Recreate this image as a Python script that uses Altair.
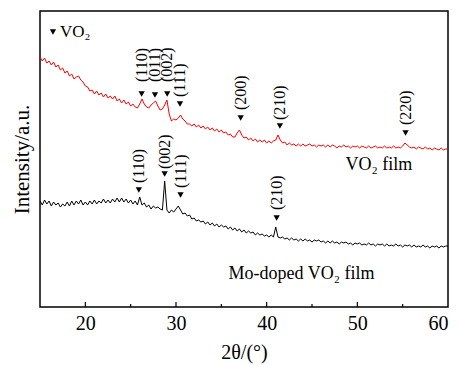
import altair as alt
import pandas as pd

# 2θ sampling grid (degrees), 15 → 60 in 0.25° steps
two_theta = [15 + 0.25 * i for i in range(181)]

# Intensity (a.u.), 4 values per degree
vo2_film = [
    250, 246, 249, 244,  # 15
    246, 242, 245, 240,  # 16
    242, 237, 239, 234,  # 17
    236, 231, 233, 228,  # 18
    230, 231, 227, 225,  # 19
    221, 220, 216, 217,  # 20
    213, 216, 212, 214,  # 21
    210, 213, 209, 211,  # 22
    208, 211, 206, 208,  # 23
    204, 207, 203, 205,  # 24
    201, 203, 200, 199,  # 25
    203, 208, 203, 200,  # 26
    199, 202, 204, 206,  # 27
    201, 197, 198, 202,  # 28
    207, 193, 186, 188,  # 29
    187, 189, 192, 188,  # 30
    186, 183, 183, 181,  # 31
    183, 180, 182, 179,  # 32
    181, 178, 180, 177,  # 33
    179, 176, 178, 175,  # 34
    177, 174, 175, 172,  # 35
    173, 170, 170, 174,  # 36
    177, 172, 169, 170,  # 37
    167, 169, 166, 168,  # 38
    165, 167, 165, 167,  # 39
    164, 166, 164, 166,  # 40
    167, 172, 167, 164,  # 41
    165, 162, 164, 162,  # 42
    163, 161, 163, 161,  # 43
    163, 161, 162, 163,  # 44
    161, 162, 160, 162,  # 45
    161, 162, 160, 162,  # 46
    160, 162, 161, 159,  # 47
    161, 160, 162, 160,  # 48
    161, 159, 161, 160,  # 49
    161, 159, 161, 160,  # 50
    159, 161, 159, 160,  # 51
    161, 159, 160, 159,  # 52
    161, 159, 160, 159,  # 53
    161, 159, 160, 159,  # 54
    161, 164, 162, 160,  # 55
    159, 160, 158, 160,  # 56
    159, 158, 160, 158,  # 57
    159, 157, 159, 158,  # 58
    157, 159, 157, 158,  # 59
    158,                 # 60
]

mo_doped_film = [
    106, 102, 107, 103,  # 15
    106, 101, 105, 102,  # 16
    104, 100, 103, 101,  # 17
    105, 101, 106, 102,  # 18
    106, 103, 107, 102,  # 19
    105, 102, 106, 103,  # 20
    107, 103, 106, 104,  # 21
    108, 104, 107, 104,  # 22
    108, 105, 109, 105,  # 23
    109, 105, 108, 104,  # 24
    107, 103, 106, 102,  # 25
    110, 102, 104, 100,  # 26
    102, 98, 101, 99,    # 27
    100, 98, 97, 126,    # 28
    97, 94, 97, 95,      # 29
    98, 101, 97, 93,     # 30
    94, 91, 92, 88,      # 31
    89, 86, 87, 85,      # 32
    86, 83, 85, 82,      # 33
    84, 81, 83, 80,      # 34
    82, 80, 81, 78,      # 35
    80, 77, 79, 76,      # 36
    78, 75, 77, 74,      # 37
    76, 74, 75, 72,      # 38
    74, 72, 73, 71,      # 39
    72, 70, 72, 70,      # 40
    80, 70, 69, 70,      # 41
    68, 69, 67, 69,      # 42
    67, 68, 66, 68,      # 43
    66, 68, 66, 67,      # 44
    65, 67, 66, 67,      # 45
    65, 66, 64, 66,      # 46
    64, 66, 64, 65,      # 47
    63, 65, 64, 65,      # 48
    63, 64, 62, 64,      # 49
    63, 64, 62, 63,      # 50
    62, 64, 62, 63,      # 51
    61, 63, 62, 63,      # 52
    61, 63, 61, 62,      # 53
    61, 63, 61, 62,      # 54
    60, 62, 61, 62,      # 55
    60, 62, 60, 61,      # 56
    60, 62, 60, 61,      # 57
    59, 61, 60, 61,      # 58
    59, 61, 60, 61,      # 59
    61,                  # 60
]

series_names = ["VO₂ film", "Mo-doped VO₂ film"]
series_colors = ["#ff0000", "#000000"]

# peak markers (▼) and their Miller-index labels
peak_labels = ["(110)", "(011)", "(002)", "(111)", "(200)", "(210)", "(220)",
               "(110)", "(002)", "(111)", "(210)"]
marker_x = [26.21, 27.68, 29.03, 30.44, 37.13, 41.46, 55.32,
            25.9, 28.75, 30.5, 41.1]
marker_y = [213, 212, 213, 203, 189, 181, 174,
            117, 133, 112, 89]
label_y = [225, 225, 225, 210, 197, 187, 182,
           124, 138, 119, 97]

# legend-like key (top left) and the two film names
key_marker_x = [16.43]
key_marker_y = [275]
key_text = ["VO₂"]
key_text_x = [17.2]
key_text_y = [270.5]

film_text = ["VO₂ film", "Mo-doped VO₂ film"]
film_text_x = [48.7, 35.8]
film_text_y = [137, 28]

tick_values = [20, 25, 30, 35, 40, 45, 50, 55]
major_ticks = [20, 30, 40, 50]
axis_label_values = [20, 30, 40, 50, 60]

FONT = "Liberation Serif"

rows = []
for name, vals in zip(series_names, [vo2_film, mo_doped_film]):
    for xv, yv in zip(two_theta, vals):
        rows.append({"x": xv, "y": yv, "series": name})
df = pd.DataFrame(rows)

ann = pd.DataFrame({"label": peak_labels, "x": marker_x, "y": marker_y, "ly": label_y})
ann_text = ann[["label", "x", "ly"]].rename(columns={"ly": "y"})
key_m = pd.DataFrame({"x": key_marker_x, "y": key_marker_y})
key_t = pd.DataFrame({"label": key_text, "x": key_text_x, "y": key_text_y})
film_t = pd.DataFrame({"label": film_text, "x": film_text_x, "y": film_text_y})
ticks_df = pd.DataFrame({"x": [t for t in tick_values if t in major_ticks]})
minor_df = pd.DataFrame({"x": [t for t in tick_values if t not in major_ticks]})

x_scale = alt.Scale(domain=[15, 60], nice=False, zero=False)
y_scale = alt.Scale(domain=[0, 296], nice=False, zero=False)

x_axis = alt.Axis(values=axis_label_values, title="2θ/(°)", grid=False, ticks=False,
                  tickSize=0, domain=False, labelFont=FONT, labelFontSize=20,
                  labelColor="black", labelPadding=6, titleFont=FONT, titleFontSize=20,
                  titleFontWeight="normal", titleColor="black", titlePadding=9)
y_axis = alt.Axis(labels=False, ticks=False, tickSize=0, domain=False, grid=False,
                  title="Intensity/a.u.", titleFont=FONT, titleFontSize=21,
                  titleFontWeight="normal", titleColor="black", titlePadding=8)


def X():
    return alt.X("x:Q", scale=x_scale, axis=x_axis)


def Y():
    return alt.Y("y:Q", scale=y_scale, axis=y_axis)


lines = alt.Chart(df).mark_line(strokeWidth=1, clip=True).encode(
    x=X(), y=Y(),
    color=alt.Color("series:N", scale=alt.Scale(domain=series_names, range=series_colors), legend=None),
    detail="series:N",
)

markers = alt.Chart(ann).mark_point(shape="triangle-down", filled=True, color="black",
                                     size=40, opacity=1).encode(x=X(), y=Y())

labels = alt.Chart(ann_text).mark_text(angle=270, align="left", baseline="middle",
                                        font=FONT, fontSize=16, color="black").encode(
    x=X(), y=Y(), text="label:N")

key_marker = alt.Chart(key_m).mark_point(shape="triangle-down", filled=True, color="black",
                                         size=40, opacity=1).encode(x=X(), y=Y())
key_label = alt.Chart(key_t).mark_text(align="left", baseline="alphabetic", font=FONT,
                                       fontSize=17, color="black").encode(x=X(), y=Y(), text="label:N")
film_labels = alt.Chart(film_t).mark_text(align="left", baseline="alphabetic", font=FONT,
                                          fontSize=18, color="black").encode(x=X(), y=Y(), text="label:N")

major = alt.Chart(ticks_df).mark_rule(color="black", strokeWidth=1.2).encode(
    x=X(), y=alt.value(296), y2=alt.value(291))
minor = alt.Chart(minor_df).mark_rule(color="black", strokeWidth=1.2).encode(
    x=X(), y=alt.value(296), y2=alt.value(293))

chart = alt.layer(lines, markers, labels, key_marker, key_label, film_labels, major, minor).properties(
    width=408, height=296,
    autosize=alt.AutoSizeParams(type="none"),
    padding={"left": 40, "top": 11, "right": 15, "bottom": 58},
    background="white",
).configure_view(stroke="black", strokeWidth=1.5).configure_axis(
    titleFont=FONT, labelFont=FONT, titleFontWeight="normal"
).configure_text(font=FONT)

chart.save("out.html", embed_options={"renderer": "svg", "actions": False})
